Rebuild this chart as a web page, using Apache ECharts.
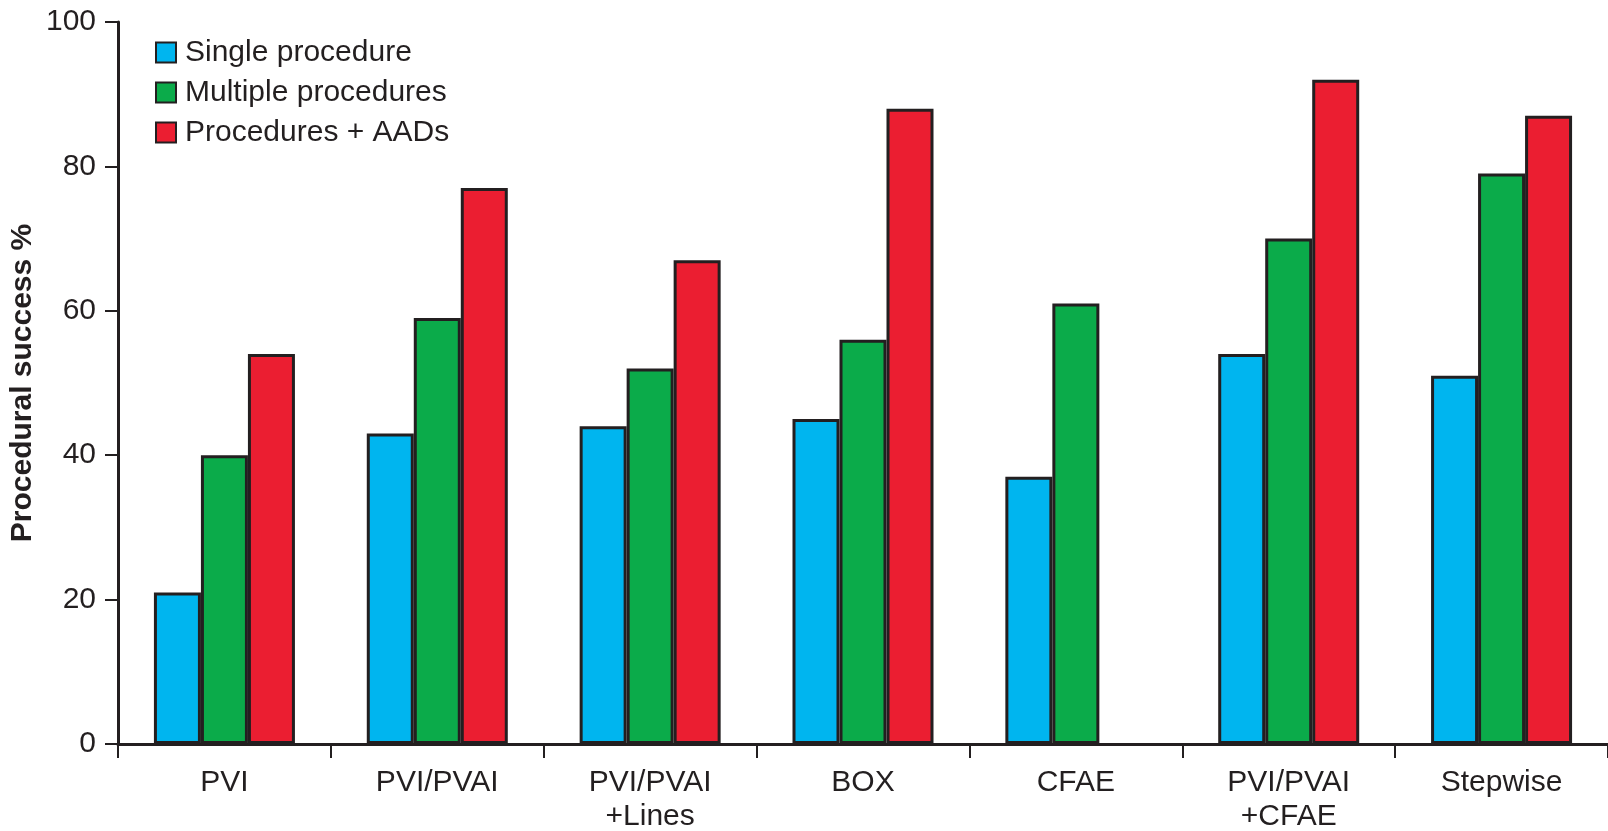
<!DOCTYPE html>
<html>
<head>
<meta charset="utf-8">
<script src="https://cdn.jsdelivr.net/npm/echarts@6/dist/echarts.min.js"></script>
<style>
html,body{margin:0;padding:0;background:#fff;}
#chart{width:1608px;height:831px;}
</style>
</head>
<body>
<div id="chart"></div>
<script>
const categories = ['PVI', 'PVI/PVAI', 'PVI/PVAI\n+Lines', 'BOX', 'CFAE', 'PVI/PVAI\n+CFAE', 'Stepwise'];
const singleProcedure = [21, 43, 44, 45, 37, 54, 51];
const multipleProcedures = [40, 59, 52, 56, 61, 70, 79];
const proceduresAADs = [54, 77, 67, 88, null, 92, 87];
const yTicks = [0, 20, 40, 60, 80, 100];

const font = '"Liberation Sans", Arial, Helvetica, sans-serif';
const textColor = '#231f20';
const chart = echarts.init(document.getElementById('chart'));

function barSeries(name, data, color) {
  return {
    name: name,
    type: 'bar',
    data: data,
    barWidth: 47,
    barGap: '0%',
    itemStyle: { color: color, borderColor: '#231f20', borderWidth: 3 },
    emphasis: { disabled: true }
  };
}

chart.setOption({
  animation: false,
  textStyle: { fontFamily: font },
  grid: { left: 118, right: 0, top: 22, bottom: 87, containLabel: false, outerBoundsMode: 'none' },
  legend: {
    orient: 'vertical',
    left: 150,
    top: 32,
    icon: 'rect',
    itemWidth: 20,
    itemHeight: 20,
    itemGap: 9,
    data: ['Single procedure', 'Multiple procedures', 'Procedures + AADs'],
    itemStyle: { borderColor: '#231f20', borderWidth: 2 },
    textStyle: { fontSize: 30, color: textColor, fontFamily: font, lineHeight: 31, padding: [0, 0, 0, 4] }
  },
  xAxis: {
    type: 'category',
    data: categories,
    boundaryGap: true,
    axisLine: { lineStyle: { color: '#231f20', width: 3 } },
    axisTick: { show: true, length: 14, alignWithLabel: false, lineStyle: { color: '#231f20', width: 2 } },
    axisLabel: { fontSize: 30, color: textColor, fontFamily: font, margin: 22, lineHeight: 34, interval: 0 }
  },
  yAxis: {
    type: 'value',
    min: yTicks[0],
    max: yTicks[yTicks.length - 1],
    interval: yTicks[1] - yTicks[0],
    name: 'Procedural success %',
    nameLocation: 'middle',
    nameGap: 80,
    nameMoveOverlap: false,
    nameTextStyle: { fontSize: 30, fontWeight: 'bold', color: textColor, fontFamily: font },
    splitLine: { show: false },
    axisLine: { show: true, lineStyle: { color: '#231f20', width: 3 } },
    axisTick: { show: true, length: 13, lineStyle: { color: '#231f20', width: 2 } },
    axisLabel: { fontSize: 30, color: textColor, fontFamily: font, margin: 22 }
  },
  series: [
    barSeries('Single procedure', singleProcedure, '#00b5ef'),
    barSeries('Multiple procedures', multipleProcedures, '#0bab4a'),
    barSeries('Procedures + AADs', proceduresAADs, '#eb1e31')
  ]
});
</script>
</body>
</html>
